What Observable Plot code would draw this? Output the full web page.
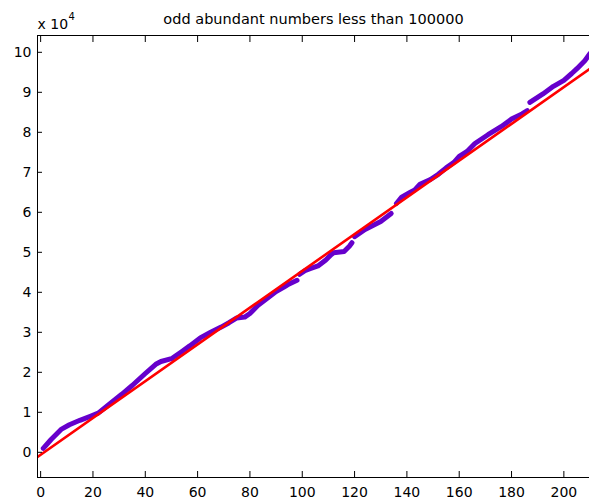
<!DOCTYPE html>
<html>
<head>
<meta charset="utf-8">
<script src="https://cdn.jsdelivr.net/npm/d3@7"></script>
<script src="https://cdn.jsdelivr.net/npm/@observablehq/plot@0.6"></script>
<style>
  html, body { margin: 0; padding: 0; background: #fff; overflow: hidden; }
</style>
</head>
<body>
<div id="chart"></div>
<script>
// ---- data ----
const title = "odd abundant numbers less than 100000";

// running index of the odd abundant number (x) and its value (y)
const seqIndex = [
  1, 4, 8, 11, 15, 19, 22, 26, 31, 35, 40, 44, 46, 50, 54, 57, 61, 65, 69, 72,
  75, 78, 80, 83, 86, 90, 93, 95, 98,
  99, 101, 103, 106, 109, 111, 112, 116, 118, 119,
  120, 124, 127, 130, 134,
  136, 138, 141, 143, 145, 149, 152, 155, 158, 160, 163, 166, 171, 176, 179, 180, 184, 186,
  187, 192, 196, 200, 203, 205, 208, 210
];
const seqValue = [
  1000, 3200, 5800, 6900, 8000, 9000, 9800, 11900, 14500, 16700, 19700, 22000, 22700, 23400, 25200, 26600, 28600, 30000, 31300, 32400,
  33600, 33800, 34700, 36700, 38200, 40200, 41300, 42100, 43000,
  44500, 45400, 45900, 46600, 48100, 49400, 49900, 50200, 51500, 52400,
  53900, 55700, 56700, 57700, 59700,
  62200, 63800, 64900, 65600, 67000, 68200, 69500, 71100, 72500, 74000, 75200, 77200, 79400, 81400, 82800, 83300, 84600, 85400,
  87500, 89600, 91500, 93000, 94700, 95900, 97900, 99700
];
// runs of consecutive points (visible jumps between runs)
const seqRun = [
  1,1,1,1,1,1,1,1,1,1,1,1,1,1,1,1,1,1,1,1,
  1,1,1,1,1,1,1,1,1,
  2,2,2,2,2,2,2,2,2,2,
  3,3,3,3,3,
  4,4,4,4,4,4,4,4,4,4,4,4,4,4,4,4,4,4,
  5,5,5,5,5,5,5,5
];

// least-squares straight line (red)
const fitIndex = [-1.2, 209.8];
const fitValue = [-1150, 95800];

const xTicks = [0, 20, 40, 60, 80, 100, 120, 140, 160, 180, 200];
const yTicks = [0, 10000, 20000, 30000, 40000, 50000, 60000, 70000, 80000, 90000, 100000];
const xDomain = [-1.2, 209.8];
const yDomain = [-6300, 104200];

// ---- build tables ----
const seq = seqIndex.map((x, i) => ({x, y: seqValue[i], run: seqRun[i]}));
const fit = fitIndex.map((x, i) => ({x, y: fitValue[i]}));

const font = "DejaVu Sans, sans-serif";
const ink = "#000";

const chart = Plot.plot({
  width: 589,
  height: 503,
  marginLeft: 37,
  marginRight: 0,
  marginTop: 35,
  marginBottom: 26,
  style: {fontFamily: font, fontSize: "14px", background: "#fff", color: ink},
  x: {domain: xDomain},
  y: {domain: yDomain},
  marks: [
    // data
    Plot.line(seq, {x: "x", y: "y", z: "run", stroke: "#6600cc", strokeWidth: 5,
      strokeLinecap: "round", strokeLinejoin: "round", clip: true}),
    Plot.line(fit, {x: "x", y: "y", stroke: "#ff0000", strokeWidth: 2.6, clip: true}),
    // box lines
    Plot.ruleX([xDomain[0]], {stroke: ink, strokeWidth: 1}),
    Plot.ruleY([yDomain[0]], {stroke: ink, strokeWidth: 1}),
    Plot.ruleY([yDomain[1]], {stroke: ink, strokeWidth: 1}),
    // inward ticks
    Plot.axisX({anchor: "bottom", ticks: xTicks, tickSize: -6, tickFormat: () => "", label: null, stroke: ink}),
    Plot.axisX({anchor: "top", ticks: xTicks, tickSize: -6, tickFormat: () => "", label: null, stroke: ink}),
    Plot.axisY({anchor: "left", ticks: yTicks, tickSize: -5, tickFormat: () => "", label: null, stroke: ink}),
    // tick labels
    Plot.axisX({anchor: "bottom", ticks: xTicks, tickSize: 0, tickPadding: 10, label: null,
      tickFormat: d => String(d), fill: ink, fontSize: 14}),
    Plot.axisY({anchor: "left", ticks: yTicks, tickSize: 0, tickPadding: 6, label: null,
      tickFormat: d => String(d / 10000), fill: ink, fontSize: 14}),
    // title and exponent
    Plot.text([title], {frameAnchor: "top", lineAnchor: "bottom", dy: -12, fontSize: 14.5, fill: ink, text: d => d}),
    Plot.text(["x 10"], {frameAnchor: "top-left", textAnchor: "start", lineAnchor: "bottom", dy: -7, dx: 0, fontSize: 14, fill: ink, text: d => d}),
    Plot.text(["4"], {frameAnchor: "top-left", textAnchor: "start", lineAnchor: "bottom", dy: -16, dx: 31, fontSize: 10, fill: ink, text: d => d})
  ]
});
document.getElementById("chart").appendChild(chart);
</script>
</body>
</html>
